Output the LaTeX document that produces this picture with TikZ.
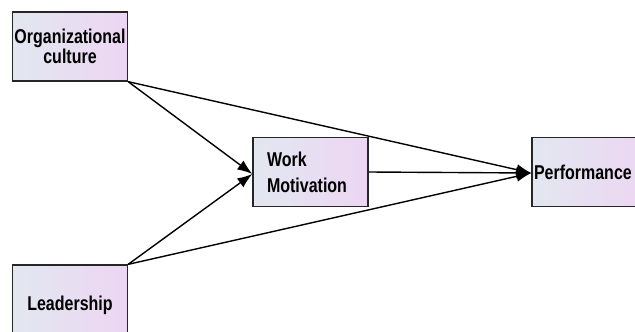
\documentclass[tikz,border=0pt]{standalone}
\usepackage{fontspec}
\newfontfamily\boxfont[FakeStretch=0.8]{Liberation Sans Bold}
\usetikzlibrary{arrows.meta}
\definecolor{boxleft}{HTML}{E2E7F0}
\definecolor{boxright}{HTML}{EDD6F3}
\tikzset{
	varbox/.style={draw=black!85,line width=1.3pt,left color=boxleft,right color=boxright,
		minimum width=115pt,minimum height=69pt,align=center,inner sep=1pt,
		font=\boxfont\fontsize{20}{20}\selectfont},
	path/.style={line width=1.4pt,-{Latex[length=15pt,width=11pt]}}
}
\begin{document}
\begin{tikzpicture}[x=1pt,y=-1pt]
		\useasboundingbox (0,0) rectangle (635,332);
		\clip (0,0) rectangle (635,332);
		\node[varbox] (culture) at (70,46.5) {Organizational\\culture};
		\node[varbox,minimum height=80pt] (leader) at (70,305) {Leadership};
		\node[varbox,text width=87pt,align=left] (motiv) at (310.5,172) {Work\\[6pt]Motivation};
		\node[varbox,text width=111pt,align=left] (perf) at (589.5,172) {Performance};
		\coordinate (mIn) at ([yshift=-2pt]motiv.west);
		\coordinate (pIn) at ([yshift=-1pt]perf.west);
		\draw[path] (culture.south east) -- (mIn);
		\draw[path] (leader.north east) -- (mIn);
		\draw[path] (culture.south east) -- (pIn);
		\draw[path] (leader.north east) -- (pIn);
		\draw[path] (motiv.east) -- (pIn);
	\end{tikzpicture}
\end{document}
